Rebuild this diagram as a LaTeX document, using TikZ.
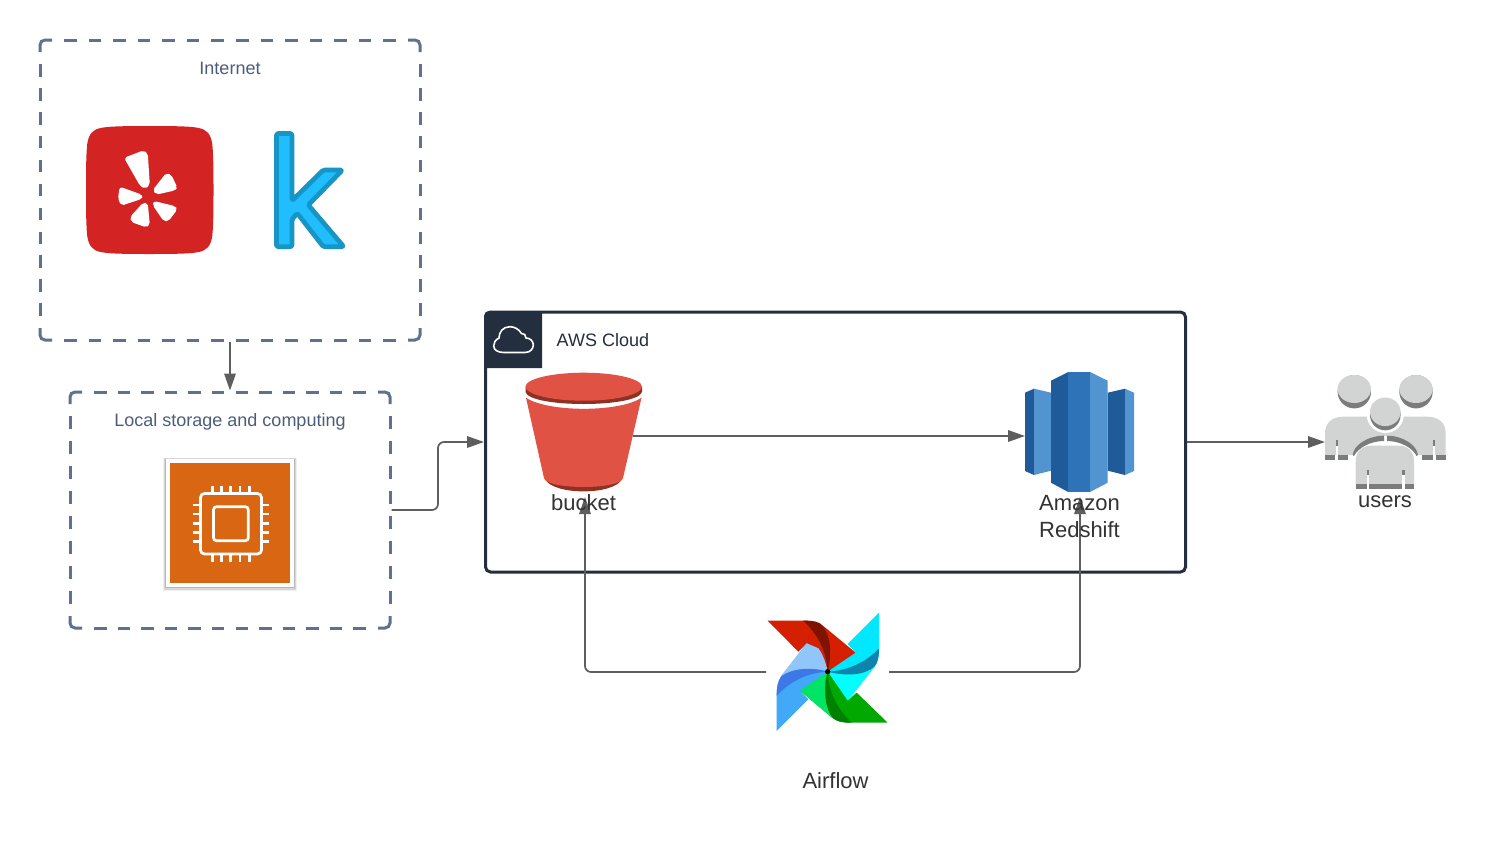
\documentclass[tikz,border=0pt]{standalone}
\usepackage{fontspec}
\setmainfont{Liberation Sans}
\usetikzlibrary{arrows.meta}
\definecolor{dashc}{HTML}{5E7190}
\definecolor{dashtxt}{HTML}{4C5D7A}
\definecolor{awsc}{HTML}{232F3E}
\definecolor{conc}{HTML}{5E5E5E}
\definecolor{labc}{HTML}{333333}
\definecolor{yelp}{HTML}{D32323}
\definecolor{kfill}{HTML}{20BEFF}
\definecolor{kline}{HTML}{1795C5}
\definecolor{ec2}{HTML}{D86613}
\definecolor{bk}{HTML}{E05243}
\definecolor{bkd}{HTML}{8C3123}
\definecolor{rsm}{HTML}{2E73B8}
\definecolor{rsd}{HTML}{205B99}
\definecolor{rsl}{HTML}{5294CF}
\definecolor{usl}{HTML}{D2D3D3}
\definecolor{usd}{HTML}{7D7C7C}
\definecolor{afred}{HTML}{D42000}
\definecolor{afredd}{HTML}{7E1400}
\definecolor{afcy}{HTML}{00E8FF}
\definecolor{afcyb}{HTML}{00FFFF}
\definecolor{afcyd}{HTML}{0E84AC}
\definecolor{afgr}{HTML}{00A800}
\definecolor{afgrl}{HTML}{00E466}
\definecolor{afgrd}{HTML}{008000}
\definecolor{afbl}{HTML}{42A9F8}
\definecolor{afbll}{HTML}{90C6FA}
\definecolor{afbld}{HTML}{3E78E6}
\tikzset{
  framebox/.style={inner sep=0pt,outer sep=1.5pt},
  dashline/.style={draw=dashc,line width=3pt},
  awsbox/.style={draw=awsc,line width=3pt,rounded corners=5pt,inner sep=0pt},
  iconbox/.style={inner sep=0pt,outer sep=0pt},
  conn/.style={draw=conc,line width=1.7pt,rounded corners=6pt,-{Triangle[length=17pt,width=11.5pt]}},
  smalltxt/.style={font=\fontsize{18}{21}\selectfont,inner sep=0pt},
  bigtxt/.style={font=\fontsize{22}{27}\selectfont,text=labc,inner sep=0pt,align=center},
  zoomed/.style={x=0.33333pt,y=-0.33333pt},
}
% corners solid, sides dashed so that each side fits its length exactly
\newcommand{\dframe}[4]{%
  \draw[dashline,rounded corners=5pt] (#1,#2+12) -- (#1,#2) -- (#1+12,#2);
  \draw[dashline,rounded corners=5pt] (#3-12,#2) -- (#3,#2) -- (#3,#2+12);
  \draw[dashline,rounded corners=5pt] (#3,#4-12) -- (#3,#4) -- (#3-12,#4);
  \draw[dashline,rounded corners=5pt] (#1+12,#4) -- (#1,#4) -- (#1,#4-12);
  \pgfmathsetmacro{\lenh}{#3-#1-48.6}
  \pgfmathsetmacro{\lenv}{#4-#2-48.6}
  \pgfmathsetmacro{\gaph}{(\lenh-12.5)/round((\lenh-12.5)/24.5)-12.5}
  \pgfmathsetmacro{\gapv}{(\lenv-12.5)/round((\lenv-12.5)/24.5)-12.5}
  \draw[dashline,dash pattern=on 12.5pt off \gaph pt] (#1+24.3,#2) -- (#3-24.3,#2);
  \draw[dashline,dash pattern=on 12.5pt off \gaph pt] (#1+24.3,#4) -- (#3-24.3,#4);
  \draw[dashline,dash pattern=on 12.5pt off \gapv pt] (#1,#2+24.3) -- (#1,#4-24.3);
  \draw[dashline,dash pattern=on 12.5pt off \gapv pt] (#3,#2+24.3) -- (#3,#4-24.3);
}
\begin{document}
\begin{tikzpicture}[x=1pt,y=-1pt]
\useasboundingbox (0,0) rectangle (1486,855);
\fill[white] (0,0) rectangle (1486,855);

% containers
\node[framebox,minimum width=380pt,minimum height=300pt] (internet) at (230,190) {};
\node[framebox,minimum width=320pt,minimum height=236pt] (localbox) at (230,510) {};
\dframe{40}{40}{420}{340}
\dframe{70}{392}{390}{628}
\node[awsbox,minimum width=700pt,minimum height=260pt] (aws) at (835.5,442) {};

% icon placeholders
\node[iconbox,minimum width=96pt,minimum height=122pt] (bucket) at (585,436) {};
\node[iconbox,minimum width=110pt,minimum height=122pt] (redshift) at (1080,436) {};
\node[iconbox,minimum width=120pt,minimum height=116pt] (users) at (1385,442) {};
\node[iconbox,minimum width=123pt,minimum height=123pt] (airflow) at (827.5,672) {};
\coordinate (elbow) at (438,510);

% AWS header
\fill[awsc] (484,368) -- (484,316) arc[start angle=180,end angle=90,radius=5pt] -- (542,311) -- (542,368) -- cycle;
\draw[white,line width=1.6pt] (504,352.5) -- (525,352.5) .. controls (531,352.5) and (533.3,348) .. (533.3,345) .. controls (533.3,341) and (530,338) .. (526,338) .. controls (526,335) and (524,333) .. (521.5,333.5) .. controls (519,329) and (514,326.7) .. (510,326.7) .. controls (503,326.7) and (499,332) .. (499,338) .. controls (495,340) and (493.7,343) .. (493.7,346) .. controls (493.7,350) and (498,352.5) .. (504,352.5) -- cycle;

% Yelp
\begin{scope}[shift={(149.75,190)}]
\fill[yelp] (0,-64) .. controls (30,-64) and (42,-63.5) .. (49,-62) .. controls (57,-60.5) and (61,-56) .. (62.5,-46) .. controls (63.75,-35) and (63.75,-15) .. (63.75,0)
 .. controls (63.75,15) and (63.75,35) .. (62.5,46) .. controls (61,56) and (57,60.5) .. (49,62) .. controls (42,63.5) and (30,64) .. (0,64)
 .. controls (-30,64) and (-42,63.5) .. (-49,62) .. controls (-57,60.5) and (-61,56) .. (-62.5,46) .. controls (-63.75,35) and (-63.75,15) .. (-63.75,0)
 .. controls (-63.75,-15) and (-63.75,-35) .. (-62.5,-46) .. controls (-61,-56) and (-57,-60.5) .. (-49,-62) .. controls (-42,-63.5) and (-30,-64) .. (0,-64) -- cycle;
\end{scope}
\begin{scope}[fill=white,draw=white,line width=2pt,line join=round,rounded corners=2pt]
\filldraw (125.5,158.3) -- (143.3,151.5) -- (146.8,153.8) -- (148.8,184.5) -- (145,187.8) -- (140.5,184.7) -- cycle;
\filldraw (154,190) -- (166.7,174) -- (170.5,175.5) -- (176.2,187.3) -- (174.5,189.5) -- (156.7,193.5) -- cycle;
\filldraw (120.5,188) -- (141.2,195.5) -- (141.2,198) -- (121.7,204.5) -- (119,198.3) -- cycle;
\filldraw (146.8,203.8) -- (148.8,224.5) -- (146,226.2) -- (132,221.2) -- (131.2,217.3) -- (143.3,203.8) -- cycle;
\filldraw (154.5,202.2) -- (174.5,207) -- (176.2,209.3) -- (168,220.2) -- (164.2,220.2) -- (153.8,205) -- cycle;
\end{scope}

% Kaggle k
\filldraw[fill=kfill,draw=kline,line width=4.7pt,line join=round,rounded corners=1.5pt] (276.5,133.5) -- (292,133.5) -- (292,200.7) -- (323.3,170) -- (342.5,170) -- (308.3,205) -- (343.8,246.7) -- (323.3,246.7) -- (297.3,213.3) -- (292,219.3) -- (292,246.7) -- (276.5,246.7) -- cycle;

% EC2
\fill[black,opacity=0.06] (163,457.5) rectangle (297,590.5);
\fill[black,opacity=0.10] (164,458) rectangle (296,589.5);
\fill[black,opacity=0.14] (165,458.5) rectangle (295,588.3);
\fill[white] (166,459) rectangle (294,586.7);
\fill[ec2] (170,463) rectangle (290,583);
\begin{scope}[draw=white,line width=2.7pt]
\draw[rounded corners=4pt] (200.5,493.5) rectangle (261.5,554);
\draw[rounded corners=3pt] (213.5,506.7) rectangle (248.3,540.7);
\foreach \px in {212.3,221.7,230.7,240,249.3}{
  \draw (\px,486) -- (\px,493);
  \draw (\px,554.5) -- (\px,561.7);
}
\foreach \py in {505,514,523.3,532.3,541.7}{
  \draw (192.7,\py) -- (200,\py);
  \draw (262,\py) -- (269,\py);
}
\end{scope}

% bucket
\fill[bkd] (545,479) .. controls (553,495.5) and (614,495.5) .. (622,479) -- cycle;
\fill[bk] (526,397.7) .. controls (548,412.5) and (620,412.5) .. (641.5,397.7) -- (623,478) .. controls (620,490) and (547,490) .. (544,478) -- cycle;
\fill[bkd] (525.5,386.7) -- (525.5,392) .. controls (530,408) and (637,408) .. (642,392) -- (642,386.7) -- cycle;
\fill[bk] (583.7,386.7) ellipse[x radius=58.2pt,y radius=14pt];

% redshift
\fill[rsd] (1025,392.7) -- (1034,388.7) -- (1034,475) -- (1025,471) -- cycle;
\fill[rsl] (1034,388.7) -- (1051,392.7) -- (1051,470.7) -- (1034,475) -- cycle;
\fill[rsd] (1107.7,392.7) -- (1125,388.7) -- (1125,475) -- (1107.7,470.7) -- cycle;
\fill[rsl] (1125,388.7) -- (1134,392.7) -- (1134,471) -- (1125,475) -- cycle;
\fill[rsd] (1051,380.7) -- (1068.3,372) -- (1068.3,492) -- (1051,482.7) -- cycle;
\fill[rsm] (1068.3,372) rectangle (1090,492);
\fill[rsl] (1090,372) -- (1107.7,380.7) -- (1107.7,482.7) -- (1090,492) -- cycle;

% users
\fill[usd] (1354.3,391.7) circle[radius=16.7pt];
\fill[usl] (1354.3,389) ellipse[x radius=16.7pt,y radius=14pt];
\fill[usd] (1416,391.7) circle[radius=16.7pt];
\fill[usl] (1416,389) ellipse[x radius=16.7pt,y radius=14pt];
\fill[usl] (1325,455) -- (1325,433) .. controls (1325,423) and (1332,416.7) .. (1343,416.7) -- (1385.3,416.7) -- (1385.3,436) .. controls (1367,436) and (1352.7,446) .. (1352.7,455) -- cycle;
\fill[usl] (1445.6,455) -- (1445.6,433) .. controls (1445.6,423) and (1438.6,416.7) .. (1427.6,416.7) -- (1385.3,416.7) -- (1385.3,436) .. controls (1403.6,436) and (1417.9,446) .. (1417.9,455) -- cycle;
\fill[usd] (1325,455) rectangle (1335,460);
\fill[usd] (1338,455) rectangle (1348.3,460);
\fill[usd] (1422.3,455) rectangle (1432.6,460);
\fill[usd] (1435.6,455) rectangle (1445.6,460);
\fill[usd] (1336,440) rectangle (1338,446);
\fill[usd] (1432.6,440) rectangle (1434.6,446);
\fill[white] (1336,446) rectangle (1338,460);
\fill[white] (1432.6,446) rectangle (1434.6,460);
\fill[white] (1385.3,414.3) circle[radius=18.7pt];
\fill[usd] (1385.3,415) circle[radius=15.3pt];
\fill[usl] (1385.3,411.8) ellipse[x radius=15.3pt,y radius=14.3pt];
\fill[usd] (1352.7,455) .. controls (1353,446) and (1367,435.7) .. (1384,435.7) -- (1384,441) .. controls (1370,441) and (1358,448) .. (1354,456) -- cycle;
\fill[usd] (1417.9,455) .. controls (1417.6,446) and (1403.6,435.7) .. (1387,435.7) -- (1387,441) .. controls (1400.6,441) and (1412.6,448) .. (1416.6,456) -- cycle;
\fill[usl] (1355.7,484.3) -- (1355.7,462) .. controls (1355.7,451) and (1362,445.7) .. (1372,445.7) -- (1398,445.7) .. controls (1408,445.7) and (1414,451) .. (1414,462) -- (1414,484.3) -- cycle;
\fill[usd] (1355.7,484.3) rectangle (1366.7,489);
\fill[usd] (1368.7,484.3) rectangle (1402,489);
\fill[usd] (1404.7,484.3) rectangle (1414,489);
\fill[usd] (1366.7,470) rectangle (1368.7,475);
\fill[usd] (1402,470) rectangle (1404.7,475);
\fill[white] (1366.7,475) rectangle (1368.7,489);
\fill[white] (1402,475) rectangle (1404.7,489);

% airflow pinwheel (drawn in the zoomed crop's coordinates)
\begin{scope}[shift={(755,600)},zoomed]
% red
\fill[afred] (38,62) -- (150,62) .. controls (175,62) and (190,65) .. (205,78) -- (302,158) -- (285,190) .. controls (265,205) and (240,210) .. (218,215) -- (155,130) -- (130,155) -- cycle;
\fill[afredd] (145,62) .. controls (185,100) and (215,150) .. (218,215) .. controls (232,160) and (228,100) .. (195,70) .. controls (178,62) and (160,62) .. (145,62) -- cycle;
% cyan
\fill[afcy] (372,38) -- (372,150) .. controls (372,175) and (368,190) .. (355,205) -- (278,302) -- (245,285) .. controls (230,265) and (225,240) .. (218,215) -- (302,158) -- (278,132) -- cycle;
\fill[afcyb] (218,215) .. controls (270,228) and (325,228) .. (358,200) -- (278,302) -- (245,285) .. controls (230,265) and (225,240) .. (218,215) -- cycle;
\fill[afcyd] (372,145) .. controls (335,185) and (280,212) .. (218,215) .. controls (270,228) and (325,228) .. (358,200) .. controls (368,190) and (372,170) .. (372,145) -- cycle;
% green
\fill[afgr] (398,368) -- (285,368) .. controls (260,368) and (245,365) .. (230,352) -- (135,272) -- (150,238) .. controls (170,225) and (195,220) .. (218,215) -- (278,302) -- (305,278) -- cycle;
\fill[afgrl] (135,272) -- (150,238) .. controls (170,225) and (195,220) .. (218,215) .. controls (205,245) and (205,310) .. (232,354) -- cycle;
\fill[afgrd] (290,368) .. controls (250,330) and (220,280) .. (218,215) .. controls (205,270) and (210,330) .. (235,355) .. controls (250,366) and (270,368) .. (290,368) -- cycle;
% blue
\fill[afbl] (65,393) -- (65,285) .. controls (65,260) and (68,245) .. (78,230) -- (155,130) -- (190,145) .. controls (205,165) and (212,190) .. (218,215) -- (135,272) -- (160,298) -- cycle;
\fill[afbll] (78,228) -- (155,130) -- (190,145) .. controls (205,165) and (212,190) .. (218,215) .. controls (170,200) and (115,205) .. (78,228) -- cycle;
\fill[afbld] (65,287) .. controls (105,245) and (155,218) .. (218,215) .. controls (165,200) and (110,205) .. (78,230) .. controls (68,245) and (65,265) .. (65,287) -- cycle;
\fill[black] (218,215) circle[radius=8];
\end{scope}

% connectors
\draw[conn] (internet) -- (localbox);
\draw[conn] (localbox.east) -- (elbow) |- (aws.west);
\draw[conn] (bucket.east) -- (redshift.west);
\draw[conn] (aws.east) -- (users.west);
\draw[conn] (airflow.west) -| (bucket.south);
\draw[conn] (airflow.east) -| (redshift.south);

% labels
\node[smalltxt,text=dashtxt] (lblint) at (230,68) {Internet};
\node[smalltxt,text=dashtxt] (lbllocal) at (230,422) {Local storage and computing};
\node[smalltxt,text=awsc,anchor=west] (lblaws) at (556.5,340) {AWS Cloud};
\node[bigtxt] (lblbucket) at (583.5,502.5) {bucket};
\node[bigtxt] (lblred) at (1079.5,516.5) {Amazon\\Redshift};
\node[bigtxt] (lblusers) at (1385,502) {users};
\node[bigtxt] (lblair) at (835.5,781) {Airflow};
\end{tikzpicture}
\end{document}
